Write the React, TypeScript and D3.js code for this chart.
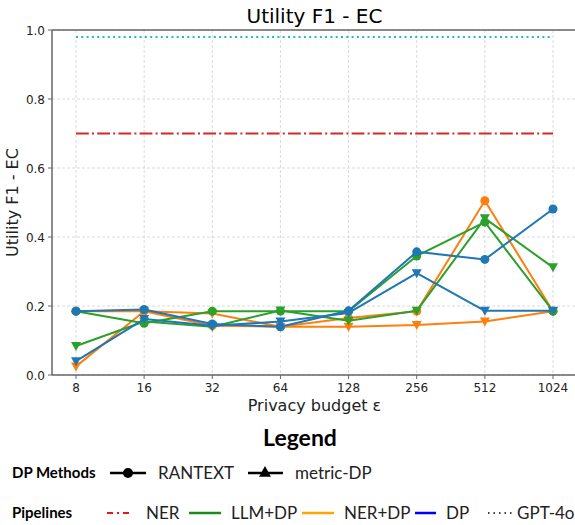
import * as d3 from 'd3';

const budgets = ['8', '16', '32', '64', '128', '256', '512', '1024'];
const yTicks = [0, 0.2, 0.4, 0.6, 0.8, 1.0];

// LLM+DP pipeline
const llmRantext = [0.185, 0.15, 0.185, 0.185, 0.185, 0.345, 0.443, 0.185];
const llmMetric = [0.084, 0.155, 0.14, 0.187, 0.157, 0.186, 0.454, 0.312];
// NER+DP pipeline
const nerRantext = [0.185, 0.185, 0.143, 0.14, 0.165, 0.185, 0.505, 0.185];
const nerMetric = [0.025, 0.185, 0.178, 0.14, 0.14, 0.145, 0.155, 0.185];
// DP only
const dpRantext = [0.185, 0.19, 0.148, 0.14, 0.186, 0.357, 0.335, 0.481];
const dpMetric = [0.04, 0.162, 0.143, 0.155, 0.18, 0.295, 0.186, 0.186];

// baselines
const nerOnly = 0.7;
const gpt4o = 0.98;

const W = 575;
const H = 525;
const left = 52;
const right = 577;
const top = 30;
const bottom = 375;

const font = 'DejaVu Sans, sans-serif';
const legendFont = 'Lato, sans-serif';

const series = [
  { vals: nerRantext, color: '#ff7f0e', marker: 'circle' },
  { vals: nerMetric, color: '#ff7f0e', marker: 'tri' },
  { vals: llmRantext, color: '#2ca02c', marker: 'circle' },
  { vals: llmMetric, color: '#2ca02c', marker: 'tri' },
  { vals: dpRantext, color: '#1f77b4', marker: 'circle' },
  { vals: dpMetric, color: '#1f77b4', marker: 'tri' },
];

function triDown(cx: number, cy: number, s: number) {
  return `M${cx - s},${cy - s * 0.8}L${cx + s},${cy - s * 0.8}L${cx},${cy + s}Z`;
}
function triUp(cx: number, cy: number, s: number) {
  return `M${cx - s},${cy + s * 0.8}L${cx + s},${cy + s * 0.8}L${cx},${cy - s}Z`;
}

export default function App() {
  const x = d3.scalePoint().domain(budgets).range([76, 553]);
  const y = d3.scaleLinear().domain([0, 1]).range([bottom, top]);

  const line = d3
    .line<number>()
    .x((_, i) => x(budgets[i]) as number)
    .y((d) => y(d));

  const x0 = x(budgets[0]) as number;
  const x1 = x(budgets[budgets.length - 1]) as number;

  return (
    <svg width={W} height={H} style={{ position: 'absolute', left: 0, top: 0, background: '#fff' }}>
      {/* grid */}
      {budgets.map((b) => (
        <line key={'gx' + b} x1={x(b)} x2={x(b)} y1={top} y2={bottom} stroke='#d0d0d0' strokeWidth={0.8} strokeDasharray='3,2' />
      ))}
      {yTicks.map((t) => (
        <line key={'gy' + t} x1={left} x2={right} y1={y(t)} y2={y(t)} stroke='#d0d0d0' strokeWidth={0.8} strokeDasharray='3,2' />
      ))}

      {/* baselines */}
      <line x1={x0} x2={x1} y1={y(gpt4o)} y2={y(gpt4o)} stroke='#17becf' strokeWidth={2} strokeDasharray='2,3.3' />
      <line x1={x0} x2={x1} y1={y(nerOnly)} y2={y(nerOnly)} stroke='#d62728' strokeWidth={2} strokeDasharray='12.8,3.2,2,3.2' />

      {/* series */}
      {series.map((s, k) => (
        <g key={k}>
          <path d={line(s.vals) ?? ''} fill='none' stroke={s.color} strokeWidth={2} strokeLinejoin='round' />
          {s.vals.map((v, i) =>
            s.marker === 'circle' ? (
              <circle key={i} cx={x(budgets[i])} cy={y(v)} r={4.5} fill={s.color} />
            ) : (
              <path key={i} d={triDown(x(budgets[i]) as number, y(v), 5)} fill={s.color} />
            )
          )}
        </g>
      ))}

      {/* spines */}
      <line x1={left} x2={left} y1={top} y2={bottom} stroke='#666' strokeWidth={1.5} />
      <line x1={left} x2={right} y1={top} y2={top} stroke='#666' strokeWidth={1.5} />
      <line x1={left} x2={right} y1={bottom} y2={bottom} stroke='#666' strokeWidth={1.5} />

      {/* ticks */}
      {yTicks.map((t) => (
        <g key={'ty' + t}>
          <line x1={left - 4} x2={left} y1={y(t)} y2={y(t)} stroke='#666' strokeWidth={1} />
          <text x={left - 7} y={y(t) + 4.5} textAnchor='end' fontFamily={font} fontSize={12} fill='#222'>
            {t.toFixed(1)}
          </text>
        </g>
      ))}
      {budgets.map((b) => (
        <g key={'tx' + b}>
          <line x1={x(b)} x2={x(b)} y1={bottom} y2={bottom + 4} stroke='#666' strokeWidth={1} />
          <text x={x(b)} y={bottom + 17} textAnchor='middle' fontFamily={font} fontSize={12} fill='#222'>
            {b}
          </text>
        </g>
      ))}

      {/* titles */}
      <text x={(left + right) / 2} y={23} textAnchor='middle' fontFamily={font} fontSize={20} fill='#000'>
        Utility F1 - EC
      </text>
      <text x={(left + right) / 2} y={411} textAnchor='middle' fontFamily={font} fontSize={16} fill='#222'>
        Privacy budget ε
      </text>
      <text
        transform={`translate(18,${(top + bottom) / 2}) rotate(-90)`}
        textAnchor='middle'
        fontFamily={font}
        fontSize={16}
        fill='#222'
      >
        Utility F1 - EC
      </text>

      {/* legend */}
      <text x={300} y={446} textAnchor='middle' fontFamily={legendFont} fontWeight='bold' fontSize={23} fill='#000'>
        Legend
      </text>

      <text x={12} y={478} fontFamily={legendFont} fontWeight='bold' fontSize={15} fill='#000'>
        DP Methods
      </text>
      <line x1={110} x2={146} y1={473} y2={473} stroke='#000' strokeWidth={2.5} />
      <circle cx={128} cy={473} r={5} fill='#000' />
      <text x={158} y={479} fontFamily={legendFont} fontSize={17} fill='#222'>
        RANTEXT
      </text>
      <line x1={248} x2={283} y1={473} y2={473} stroke='#000' strokeWidth={2.5} />
      <path d={triUp(265, 472, 6)} fill='#000' />
      <text x={295} y={479} fontFamily={legendFont} fontSize={17} fill='#222'>
        metric-DP
      </text>

      <text x={12} y={518} fontFamily={legendFont} fontWeight='bold' fontSize={15} fill='#000'>
        Pipelines
      </text>
      <line x1={107} x2={133} y1={513} y2={513} stroke='#e8141c' strokeWidth={2} strokeDasharray='6,4,2,4' />
      <text x={146} y={519} fontFamily={legendFont} fontSize={17} fill='#222'>
        NER
      </text>
      <line x1={189} x2={221} y1={513} y2={513} stroke='#1a8c1a' strokeWidth={2.5} />
      <text x={231} y={519} fontFamily={legendFont} fontSize={17} fill='#222'>
        LLM+DP
      </text>
      <line x1={302} x2={334} y1={513} y2={513} stroke='#ffa500' strokeWidth={2.5} />
      <text x={344} y={519} fontFamily={legendFont} fontSize={17} fill='#222'>
        NER+DP
      </text>
      <line x1={415} x2={436} y1={513} y2={513} stroke='#0000ff' strokeWidth={2.5} />
      <text x={446} y={519} fontFamily={legendFont} fontSize={17} fill='#222'>
        DP
      </text>
      <line x1={488} x2={513} y1={513} y2={513} stroke='#000' strokeWidth={1.5} strokeDasharray='1.5,4' />
      <text x={517} y={519} fontFamily={legendFont} fontSize={17} fill='#222'>
        GPT-4o
      </text>
    </svg>
  );
}
